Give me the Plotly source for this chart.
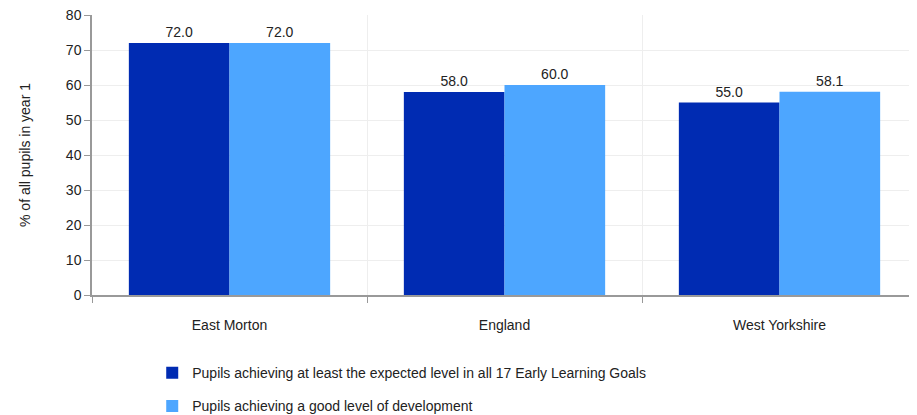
import plotly.graph_objects as go

categories = ["East Morton", "England", "West Yorkshire"]
expected_level = [72.0, 58.0, 55.0]
good_development = [72.0, 60.0, 58.1]
series_names = [
    "Pupils achieving at least the expected level in all 17 Early Learning Goals",
    "Pupils achieving a good level of development",
]
y_ticks = [0, 10, 20, 30, 40, 50, 60, 70, 80]

FONT = "Liberation Sans, Arial, sans-serif"

fig = go.Figure()
fig.add_trace(go.Bar(
    x=categories, y=expected_level, name=series_names[0], legendgroup="a",
    marker={"color": "#002bb2", "line": {"width": 0}},
    text=[f"{v:.1f}" for v in expected_level], textposition="outside",
    cliponaxis=False,
))
fig.add_trace(go.Bar(
    x=categories, y=good_development, name=series_names[1], legendgroup="b",
    marker={"color": "#4da6ff", "line": {"width": 0}},
    text=[f"{v:.1f}" for v in good_development], textposition="outside",
    cliponaxis=False,
))

fig.update_traces(textfont={"size": 14, "color": "#222", "family": FONT})

# page body adds an 8px offset, so the figure is sized to fit the window
fig.update_layout(
    width=909, height=407,
    margin={"l": 84, "r": 0, "t": 7, "b": 120, "autoexpand": False},
    barmode="group", bargap=0.268, bargroupgap=0,
    plot_bgcolor="white", paper_bgcolor="white",
    font={"family": FONT, "size": 14, "color": "#222"},
    showlegend=True,
    legend={
        "orientation": "v", "x": 0.073, "y": -0.222, "xanchor": "left", "yanchor": "top",
        "font": {"size": 14, "color": "#222"}, "tracegroupgap": 12,
        "itemwidth": 30, "bgcolor": "rgba(0,0,0,0)",
    },
    yaxis={
        "range": [0, 80], "tickvals": y_ticks, "showgrid": True, "gridcolor": "#eeeeee",
        "showline": True, "linecolor": "#999", "linewidth": 1.5,
        "ticks": "outside", "ticklen": 6, "tickcolor": "#999",
        "zeroline": False, "automargin": False, "ticklabeloverflow": "allow",
        "title": {"text": "% of all pupils in year 1", "font": {"size": 14}, "standoff": 32},
    },
    xaxis={
        "tickson": "boundaries", "showgrid": True, "gridcolor": "#eeeeee",
        "showline": True, "linecolor": "#999", "linewidth": 1.5,
        "ticks": "outside", "ticklen": 6, "tickcolor": "#999",
        "tickfont": {"size": 14}, "ticklabelstandoff": 16, "automargin": False,
        "ticklabeloverflow": "allow",
    },
)

fig.write_html("out.html")
